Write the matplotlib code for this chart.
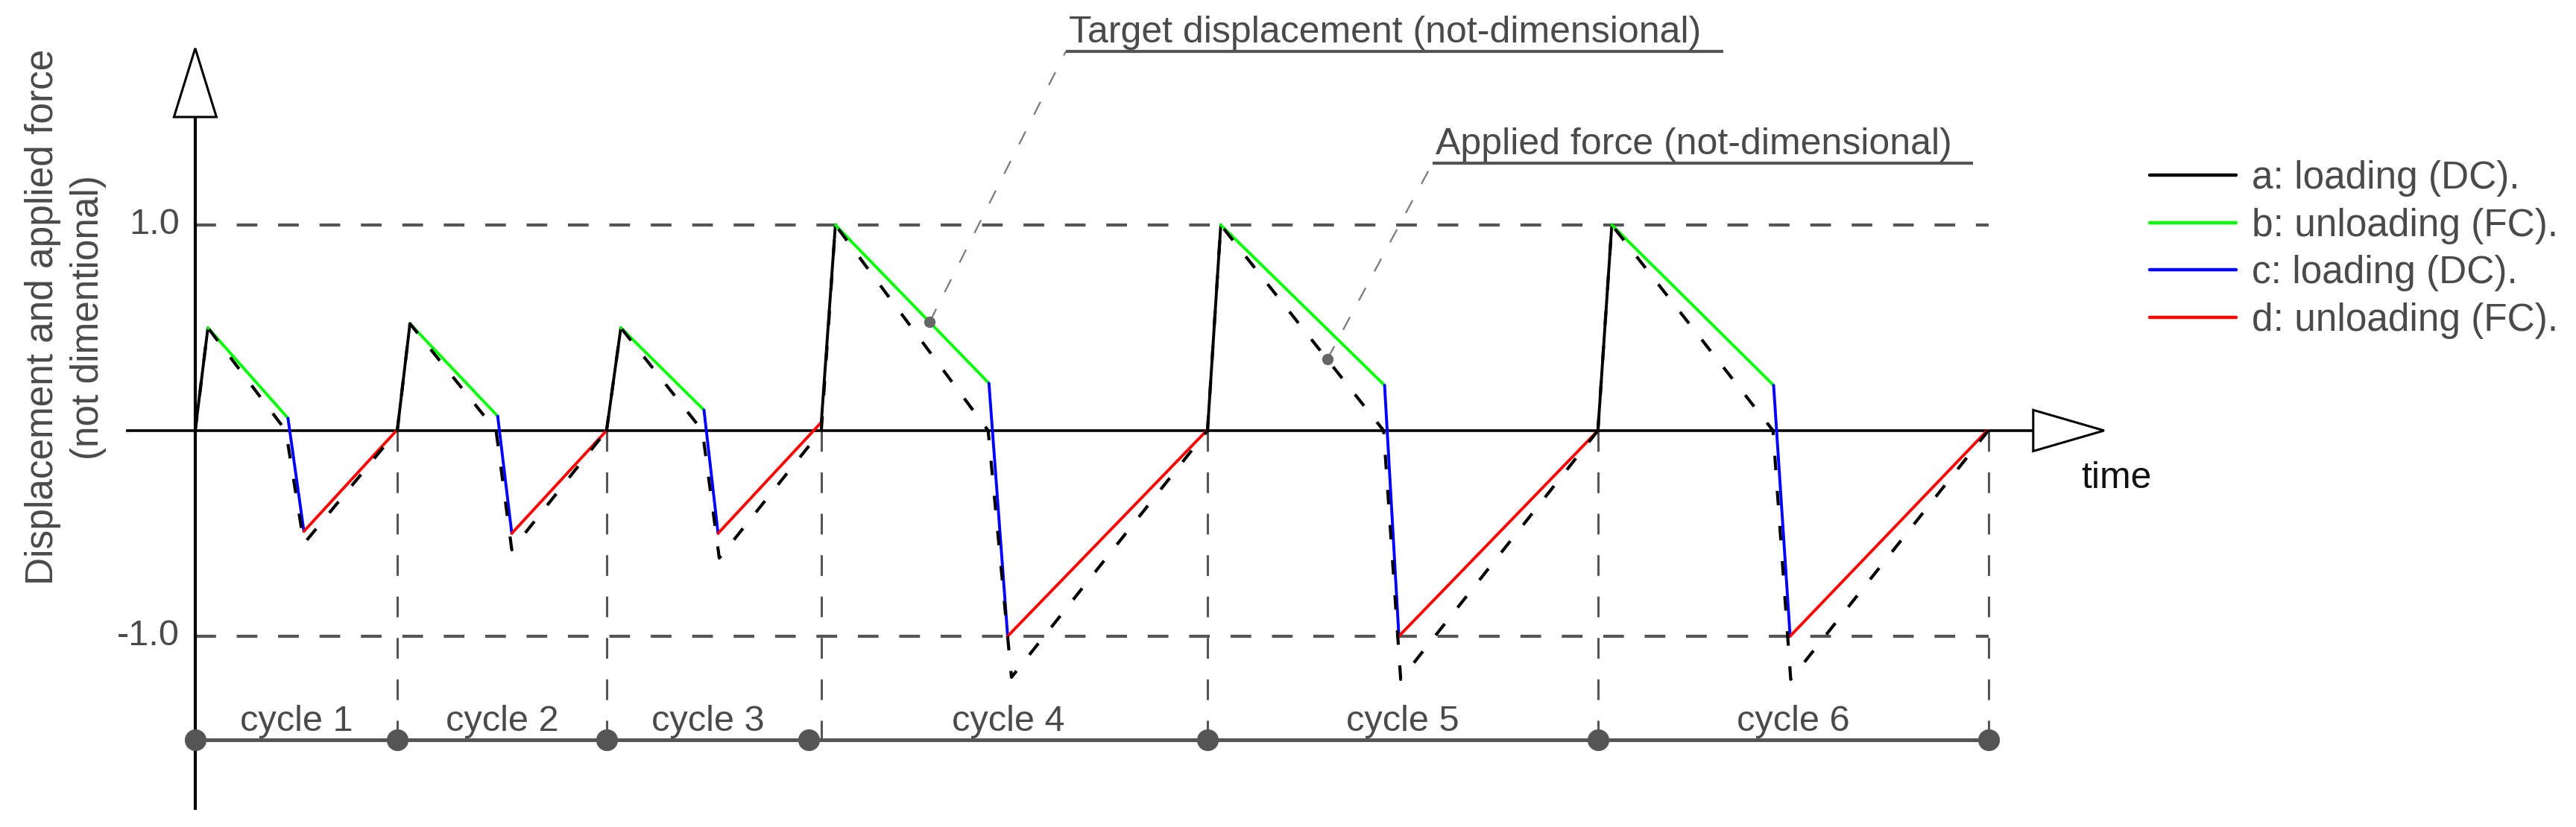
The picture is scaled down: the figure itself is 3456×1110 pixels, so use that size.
import matplotlib
matplotlib.use("Agg")
import matplotlib.pyplot as plt
from matplotlib.patches import Polygon

plt.rcParams['font.family'] = ['Liberation Sans', 'DejaVu Sans']
plt.rcParams['lines.scale_dashes'] = False
plt.rcParams['lines.solid_capstyle'] = 'butt'

# cycle geometry (time in arbitrary units, values not-dimensional)
cycle_names = ['cycle 1', 'cycle 2', 'cycle 3', 'cycle 4', 'cycle 5', 'cycle 6']
cycle_bounds = [0.0, 10.04, 20.44, 31.11, 50.30, 69.70, 89.10]
cycle_dots = [0.0, 10.04, 20.44, 30.48, 50.30, 69.70, 89.10]

# applied force: a loading -> b unloading -> c loading -> d unloading
start_t = [0.0, 10.04, 20.44, 31.11, 50.30, 69.70]
start_f = [0.0, 0.0, 0.0, 0.04, 0.0, 0.0]
peak_t = [0.63, 10.67, 21.15, 31.81, 50.96, 70.39]
peak_f = [0.50, 0.52, 0.50, 1.00, 1.00, 1.00]
unload_t = [4.61, 15.03, 25.28, 39.44, 59.10, 78.43]
unload_f = [0.06, 0.07, 0.10, 0.23, 0.22, 0.22]
reload_t = [5.40, 15.73, 25.98, 40.37, 59.81, 79.25]
reload_f = [-0.49, -0.50, -0.50, -1.00, -1.00, -1.00]
end_t = [10.00, 20.44, 31.11, 50.26, 69.70, 89.04]
end_f = [0.0, 0.0, 0.04, 0.0, 0.0, 0.0]

# target displacement (dashed)
disp_zero_t = [4.50, 14.95, 25.20, 39.40, 59.05, 78.40]
trough_t = [5.40, 15.73, 26.04, 40.56, 59.90, 79.28]
trough_d = [-0.55, -0.58, -0.62, -1.20, -1.21, -1.21]

legend_labels = ['a: loading (DC).', 'b: unloading (FC).',
                 'c: loading (DC).', 'd: unloading (FC).']
seg_colors = ['#000000', '#00ff00', '#0000ff', '#ff0000']

GRAY = '#555555'
TXT = '#4a4a4a'
FS = 36

fig = plt.figure(figsize=(34.56, 11.10), dpi=100)
ax = fig.add_axes([0, 0, 1, 1])
ax.set_xlim(-9.70, 118.30)
ax.set_ylim(-1.928, 2.094)
ax.axis('off')

# reference lines at +-1
for lev in (1.0, -1.0):
    ax.plot([cycle_bounds[0], cycle_bounds[-1]], [lev, lev], color=GRAY, lw=3,
            dashes=(20, 20), zorder=1)
ax.text(-0.78, 1.0, '1.0', ha='right', va='center', fontsize=FS - 1, color=TXT)
ax.text(-0.78, -1.0, '-1.0', ha='right', va='center', fontsize=FS - 1, color=TXT)

# cycle boundaries
base_y = -1.504
for b in cycle_bounds[1:]:
    ax.plot([b, b], [0, base_y], color=GRAY, lw=2.2, dashes=(20, 20), zorder=1)
ax.plot([cycle_dots[0], cycle_dots[-1]], [base_y, base_y], color=GRAY, lw=3.6, zorder=2)
ax.plot(cycle_dots, [base_y] * len(cycle_dots), 'o', color=GRAY, ms=20, zorder=6)
for i, name in enumerate(cycle_names):
    mid = (cycle_dots[i] + cycle_dots[i + 1]) / 2
    ax.text(mid, -1.462, name, ha='center', va='baseline', fontsize=FS - 1, color=TXT)

# axes with open arrowheads
ax.plot([0, 0], [-1.844, 1.525], color='black', lw=3, zorder=3)
ax.add_patch(Polygon([[-1.056, 1.525], [1.056, 1.525], [0, 1.859]], closed=True,
                     facecolor='white', edgecolor='black', lw=2.2, zorder=4))
ax.plot([-3.44, 91.33], [0, 0], color='black', lw=2.6, zorder=3)
ax.add_patch(Polygon([[91.33, 0.10], [91.33, -0.10], [94.85, 0]], closed=True,
                     facecolor='white', edgecolor='black', lw=2.2, zorder=4))
ax.text(93.7, -0.279, 'time', ha='left', va='baseline', fontsize=FS, color='#111111')

# applied force, coloured by branch
handles = [None] * 4
for i in range(len(start_t)):
    pts_t = [start_t[i], peak_t[i], unload_t[i], reload_t[i], end_t[i]]
    pts_f = [start_f[i], peak_f[i], unload_f[i], reload_f[i], end_f[i]]
    for k in range(4):
        ln, = ax.plot(pts_t[k:k + 2], pts_f[k:k + 2], color=seg_colors[k], lw=2.8,
                      solid_capstyle='round', zorder=5)
        if handles[k] is None:
            handles[k] = ln

# target displacement
for i in range(len(start_t)):
    ax.plot([start_t[i], peak_t[i], disp_zero_t[i], trough_t[i], cycle_bounds[i + 1]],
            [0, peak_f[i], 0, trough_d[i], 0], color='black', lw=3,
            dashes=(14, 20), zorder=5)

# annotations
notes = [('Target displacement (not-dimensional)', (36.5, 0.529), 43.26, 75.93, 1.844),
         ('Applied force (not-dimensional)', (56.26, 0.348), 61.48, 88.33, 1.300)]
for txt, (px, py), ux0, ux1, uy in notes:
    ax.plot([px, ux0], [py, uy], color='#7a7a7a', lw=1.6, dashes=(14, 18), zorder=6)
    ax.plot([px], [py], 'o', color='#666666', ms=10, zorder=7)
    ax.plot([ux0, ux1], [uy, uy], color=GRAY, lw=3, zorder=6)
    ax.text(ux0 + 0.15, uy + 0.045, txt, ha='left', va='baseline', fontsize=FS, color=TXT)

ax.text(-6.44, 0.551, 'Displacement and applied force\n(not dimentional)', rotation=90,
        ha='center', va='center', multialignment='center', linespacing=1.3,
        fontsize=FS + 1, color=TXT)

leg = ax.legend(handles, legend_labels, loc='upper left', bbox_to_anchor=(0.8345, 0.806),
                bbox_transform=fig.transFigure, frameon=False, fontsize=FS + 1,
                handlelength=2.25, handletextpad=0.42, labelspacing=0.28, borderpad=0,
                borderaxespad=0)
for t in leg.get_texts():
    t.set_color(TXT)
for h in leg.get_lines():
    h.set_linewidth(3.2)

fig.savefig('out.png', dpi=100, facecolor='white')
